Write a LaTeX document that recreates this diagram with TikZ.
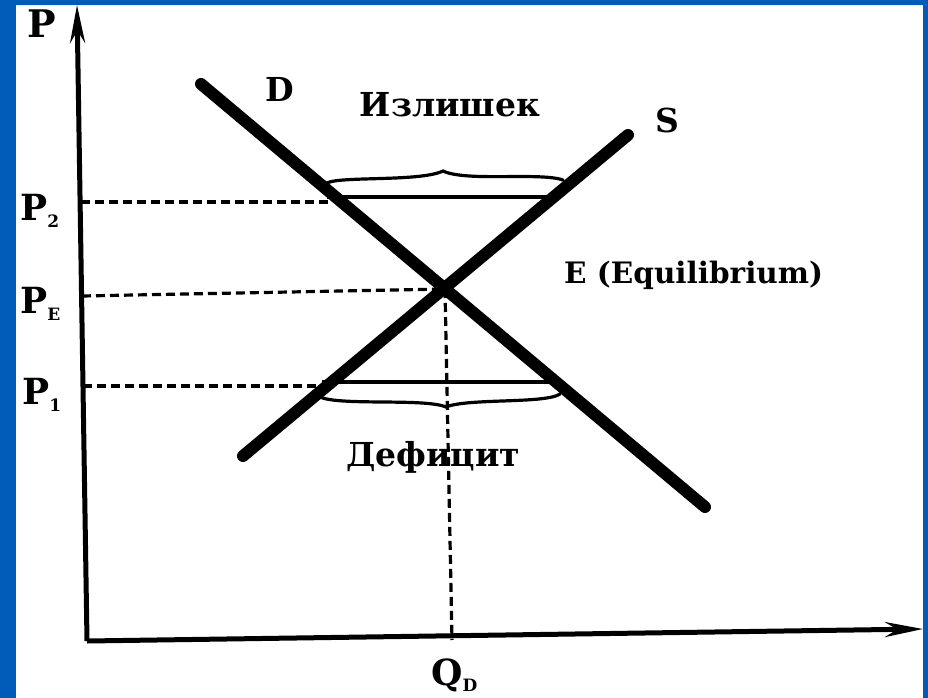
\documentclass[tikz,border=0pt]{standalone}
\usepackage{fontspec}
\setmainfont{DejaVu Serif}
\usetikzlibrary{arrows.meta}
\definecolor{slideblue}{RGB}{0,92,184}
\newcommand{\sbs}[2][-7pt]{\raisebox{#1}{\fontsize{17}{17}\selectfont #2}}
\tikzset{
  curve/.style={line width=12pt, line cap=round},
  axis/.style={line width=5pt, -{Stealth[length=38pt,width=15pt]}},
  guide/.style={line width=3.2pt, dash pattern=on 9pt off 5pt},
  bar/.style={line width=3.5pt},
  brace/.style={line width=3.2pt, line cap=round},
  lbl/.style={font=\bfseries\fontsize{33}{36}\selectfont, inner sep=0pt},
  elbl/.style={font=\bfseries\fontsize{29.5}{32}\selectfont, inner sep=0pt},
  clbl/.style={font=\bfseries\fontsize{33}{36}\selectfont, inner sep=0pt},
  plbl/.style={font=\bfseries\fontsize{36}{38}\selectfont, inner sep=0pt},
}
\begin{document}
\begin{tikzpicture}[x=1pt,y=-1pt]
\useasboundingbox (0,0) rectangle (928,698);
\fill[slideblue] (0,0) rectangle (928,698);
\fill[white] (16,5) rectangle (923,698);
% axes
\coordinate (O) at (87,641);
\coordinate (Ytop) at (77,5);
\coordinate (Xend) at (923,629);
\draw[axis] (O) -- (Ytop);
\draw[axis] (O) -- (Xend);
% curves
\coordinate (D1) at (201,84);
\coordinate (D2) at (705,507);
\coordinate (S1) at (243,456);
\coordinate (S2) at (628,135);
\coordinate (E) at (445,289);
\draw[curve] (D1) -- (D2);
\draw[curve] (S1) -- (S2);
% guides
\coordinate (aP2) at (81,202);
\coordinate (bP2) at (332,202);
\coordinate (aPE) at (82,296);
\coordinate (aP1) at (83,386);
\coordinate (bP1) at (320,386);
\coordinate (Qd) at (452,640);
\draw[guide] (aP2) -- (bP2);
\draw[guide] (aPE) -- (E);
\draw[guide] (aP1) -- (bP1);
\draw[guide] (E) -- (Qd);
% surplus
\coordinate (s1) at (327,197);
\coordinate (s2) at (547,197);
\draw[bar] (s1) -- (s2);
\coordinate (ub1) at (327,183);
\coordinate (ubp) at (443,171);
\coordinate (ub2) at (563,180);
\draw[brace] (ub1) .. controls (340,176) and (420,182) .. (ubp)
             .. controls (466,182) and (540,172) .. (ub2);
% deficit
\coordinate (d1) at (322,382);
\coordinate (d2) at (549,382);
\draw[bar] (d1) -- (d2);
\coordinate (lb1) at (320,397);
\coordinate (lbp) at (446,407);
\coordinate (lb2) at (560,394);
\draw[brace] (lb1) .. controls (340,406) and (425,398) .. (lbp)
             .. controls (468,398) and (545,404) .. (lb2);
% labels
\node[plbl, font=\bfseries\fontsize{38}{40}\selectfont, anchor=base west] (lP) at (27,38) {P};
\node[lbl, anchor=base west] (lD) at (265,102) {D};
\node[clbl, anchor=base] (lsur) at (450,117) {Излишек};
\node[lbl, anchor=base west] (lS) at (655,132) {S};
\node[elbl, anchor=base west] (lE) at (564,283) {E (Equilibrium)};
\node[clbl, anchor=base] (ldef) at (433,466) {Дефицит};
\node[plbl, anchor=base west] (lP2) at (20,220) {P\sbs{2}};
\node[plbl, anchor=base west] (lPE) at (20,313) {P\sbs{E}};
\node[plbl, anchor=base west] (lP1) at (22,404) {P\sbs{1}};
\node[plbl, anchor=base west] (lQ) at (431,685) {Q\sbs[-6pt]{D}};
\end{tikzpicture}
\end{document}
